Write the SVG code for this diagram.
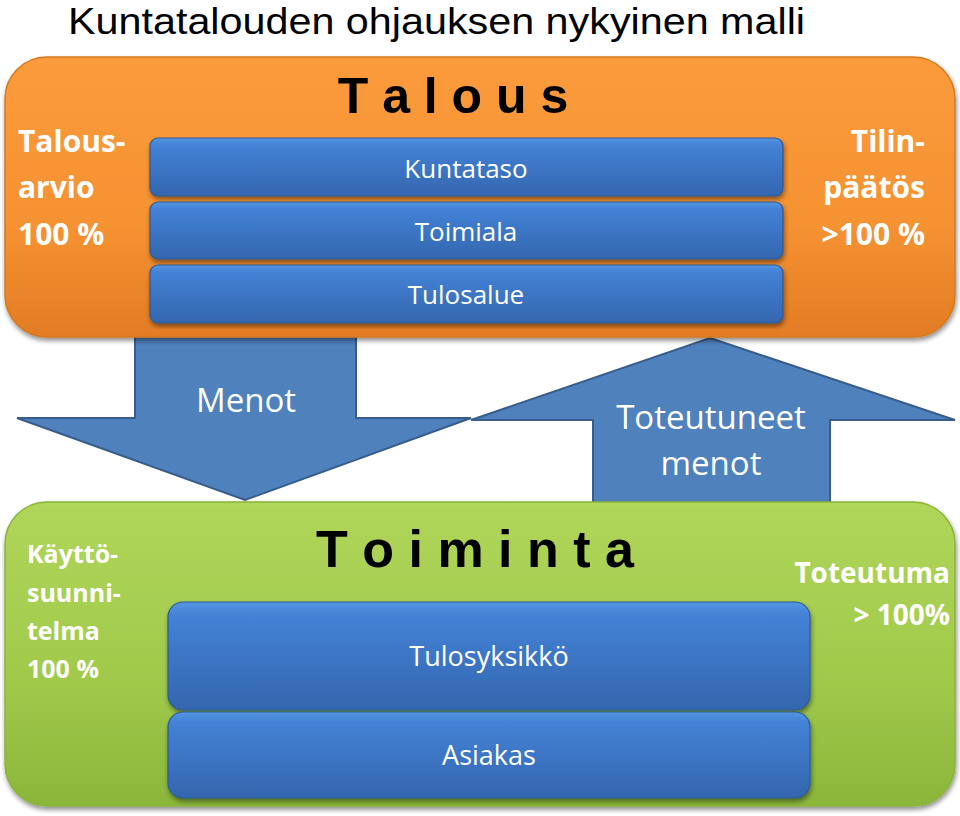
<svg xmlns="http://www.w3.org/2000/svg" width="960" height="816" viewBox="0 0 960 816">
  <defs>
    <linearGradient id="gOrange" x1="0" y1="0" x2="0" y2="1">
      <stop offset="0" stop-color="#FB9B3C"/>
      <stop offset="0.6" stop-color="#F59232"/>
      <stop offset="1" stop-color="#E27C24"/>
    </linearGradient>
    <linearGradient id="gGreen" x1="0" y1="0" x2="0" y2="1">
      <stop offset="0" stop-color="#B0D65A"/>
      <stop offset="0.6" stop-color="#A0C94A"/>
      <stop offset="1" stop-color="#8BB63A"/>
    </linearGradient>
    <linearGradient id="gBar" x1="0" y1="0" x2="0" y2="1">
      <stop offset="0" stop-color="#5595E0"/>
      <stop offset="0.12" stop-color="#4482D6"/>
      <stop offset="1" stop-color="#3366AE"/>
    </linearGradient>
    <filter id="shadow" x="-5%" y="-5%" width="110%" height="115%">
      <feGaussianBlur in="SourceAlpha" stdDeviation="2.5"/>
      <feOffset dx="1" dy="3" result="b"/>
      <feComponentTransfer><feFuncA type="linear" slope="0.45"/></feComponentTransfer>
      <feMerge><feMergeNode/><feMergeNode in="SourceGraphic"/></feMerge>
    </filter>
  </defs>
  <style>
    .title { font-family: "Liberation Sans", Arial, sans-serif; font-size: 36px; fill: #000; }
    .big { font-family: "Liberation Sans", Arial, sans-serif; font-weight: bold; fill: #000; }
    .side { font-family: "Open Sans", "Liberation Sans", sans-serif; font-weight: bold; fill: #fff; }
    .bartxt { font-family: "Open Sans", "Liberation Sans", sans-serif; fill: #fff; text-anchor: middle; }
    .arrtxt { font-family: "Open Sans", "Liberation Sans", sans-serif; fill: #fff; text-anchor: middle; font-size: 33px; }
    .bar { fill: url(#gBar); stroke: #2C5A96; stroke-width: 1.2; filter: url(#shadow); }
    .arrow { fill: #4F81BD; stroke: #385D8A; stroke-width: 2; }
  </style>

  <text class="title" x="68" y="34" textLength="737" lengthAdjust="spacingAndGlyphs">Kuntatalouden ohjauksen nykyinen malli</text>

  <g id="connectors">
    <path class="arrow" d="M135,330 L356,330 L356,418 L471,418 L245,500 L17,418 L135,418 Z"/>
    <path class="arrow" d="M710,338 L955,420 L830,420 L830,510 L593,510 L593,420 L471,420 Z"/>
  </g>

  <g id="talous">
    <rect x="5" y="57" width="950" height="280" rx="42" fill="url(#gOrange)" stroke="#D5781F" stroke-width="1.5" filter="url(#shadow)"/>
    <text class="big" x="453" y="113" font-size="50" text-anchor="middle">T a l o u s</text>
    <text class="side" font-size="30"><tspan x="18" y="152">Talous-</tspan><tspan x="18" y="198">arvio</tspan><tspan x="18" y="245">100 %</tspan></text>
    <text class="side" font-size="30" text-anchor="end"><tspan x="925" y="152">Tilin-</tspan><tspan x="925" y="198">päätös</tspan><tspan x="925" y="245">&gt;100 %</tspan></text>
  </g>

  <g id="kuntataso">
    <rect class="bar" x="150" y="138" width="633" height="58" rx="8"/>
    <text class="bartxt" x="466" y="178" font-size="26">Kuntataso</text>
  </g>
  <g id="toimiala">
    <rect class="bar" x="150" y="202" width="633" height="57" rx="8"/>
    <text class="bartxt" x="466" y="241" font-size="26">Toimiala</text>
  </g>
  <g id="tulosalue">
    <rect class="bar" x="150" y="265" width="633" height="58" rx="8"/>
    <text class="bartxt" x="466" y="304" font-size="26">Tulosalue</text>
  </g>

  <g id="menot-label">
    <text class="arrtxt" x="246" y="412">Menot</text>
  </g>
  <g id="toteutuneet-label">
    <text class="arrtxt"><tspan x="711" y="429">Toteutuneet</tspan><tspan x="711" y="475">menot</tspan></text>
  </g>

  <g id="toiminta">
    <rect x="5" y="502" width="950" height="304" rx="42" fill="url(#gGreen)" stroke="#8AB43A" stroke-width="1.5" filter="url(#shadow)"/>
    <text class="big" x="475" y="567" font-size="52" text-anchor="middle">T o i m i n t a</text>
    <text class="side" font-size="25"><tspan x="27" y="563">Käyttö-</tspan><tspan x="27" y="602">suunni-</tspan><tspan x="27" y="640">telma</tspan><tspan x="27" y="678">100 %</tspan></text>
    <text class="side" font-size="28" text-anchor="end"><tspan x="950" y="583">Toteutuma</tspan><tspan x="950" y="625">&gt; 100%</tspan></text>
  </g>

  <g id="tulosyksikko">
    <rect class="bar" x="168" y="602" width="642" height="108" rx="15"/>
    <text class="bartxt" x="489" y="666" font-size="27">Tulosyksikkö</text>
  </g>
  <g id="asiakas">
    <rect class="bar" x="168" y="712" width="642" height="86" rx="15"/>
    <text class="bartxt" x="489" y="765" font-size="27">Asiakas</text>
  </g>
</svg>
